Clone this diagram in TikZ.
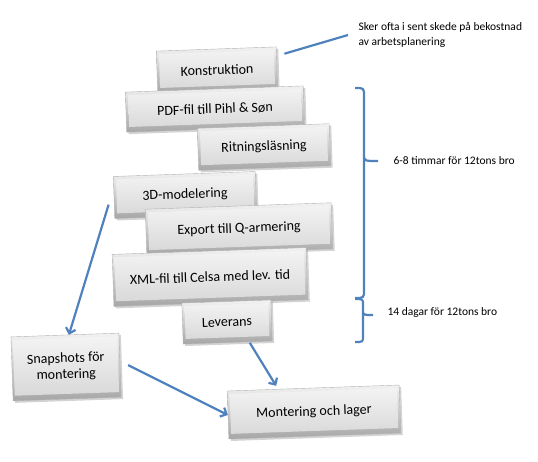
\documentclass[tikz,border=0pt]{standalone}
\usepackage{fontspec}
\setmainfont{Carlito}
\usetikzlibrary{arrows.meta,shadows}
\definecolor{flowblue}{RGB}{79,129,189}
\tikzset{
  stepbox/.style={draw=gray!60, rotate=2, font=\fontsize{14}{16}\selectfont,
    top color=gray!10, bottom color=gray!70,
    path picture={\shade[top color=gray!8, bottom color=gray!32]
      ([shift={(4pt,5pt)}]path picture bounding box.south west) rectangle
      ([shift={(-4pt,-3pt)}]path picture bounding box.north east);},
    drop shadow={shadow xshift=2pt, shadow yshift=-2pt, opacity=0.35},
    inner sep=2pt, align=center},
  flow/.style={flowblue, line width=2.2pt, -{Straight Barb[length=5pt,width=10pt]}},
  brace/.style={flowblue, line width=2.2pt, line join=round},
  note/.style={font=\fontsize{11.5}{15}\selectfont, align=left}
}
\begin{document}
\begin{tikzpicture}[x=1pt,y=-1pt]
        \useasboundingbox (0,0) rectangle (538,461);
        % boxes
        \node[stepbox, minimum width=120, minimum height=42] (konstruktion) at (217,70) {Konstruktion};
        \node[stepbox, minimum width=178, minimum height=40] (pdf) at (215,109) {PDF-fil till Pihl \& Søn};
        \node[stepbox, minimum width=132, minimum height=42] (ritning) at (264,147) {Ritningsläsning};
        \node[stepbox, minimum width=142, minimum height=42] (modelering) at (185,195) {3D-modelering};
        \node[stepbox, minimum width=186, minimum height=46] (export) at (239,229) {Export till Q-armering};
        \node[stepbox, minimum width=194, minimum height=52] (xml) at (210,277) {XML-fil till Celsa med lev. tid};
        \node[stepbox, minimum width=89, minimum height=41] (leverans) at (227,322) {Leverans};
        \node[stepbox, minimum width=108, minimum height=64] (snapshots) at (66,367) {Snapshots för\\montering};
        \node[stepbox, minimum width=172, minimum height=48] (montering) at (314,412) {Montering och lager};
        % notes
        \node[note, anchor=west] (sent) at (355,35) {Sker ofta i sent skede på bekostnad\\av arbetsplanering};
        \node[note, anchor=west] (timmar) at (390,161) {6-8 timmar för 12tons bro};
        \node[note, anchor=west] (dagar) at (384,312) {14 dagar för 12tons bro};
        % connectors
        \draw[flowblue, line width=2.2pt] ([xshift=8pt,yshift=-7pt]konstruktion.north east) -- ([xshift=-7pt]sent.west);
        \draw[flow] ([xshift=-6pt,yshift=14pt]modelering.south west) -- ([xshift=4pt]snapshots.north);
        \draw[flow] ([xshift=8pt]snapshots.east) -- (montering.west);
        \draw[flow] ([xshift=22pt]leverans.south) -- ([xshift=-37pt,yshift=2pt]montering.north);
        % braces
        \draw[brace] (355,88) .. controls (364,88) .. (364,96) -- (364,154) .. controls (364,161) .. (378,161)
          (364,154) .. controls (364,161) .. (364,168) -- (364,290) .. controls (364,298) .. (355,298);
        \draw[brace] (355,299) .. controls (363,299) .. (363,305) -- (363,310) .. controls (363,315) .. (373,315)
          (363,310) .. controls (363,315) .. (363,320) -- (363,336) .. controls (363,342) .. (355,342);
    \end{tikzpicture}
\end{document}
